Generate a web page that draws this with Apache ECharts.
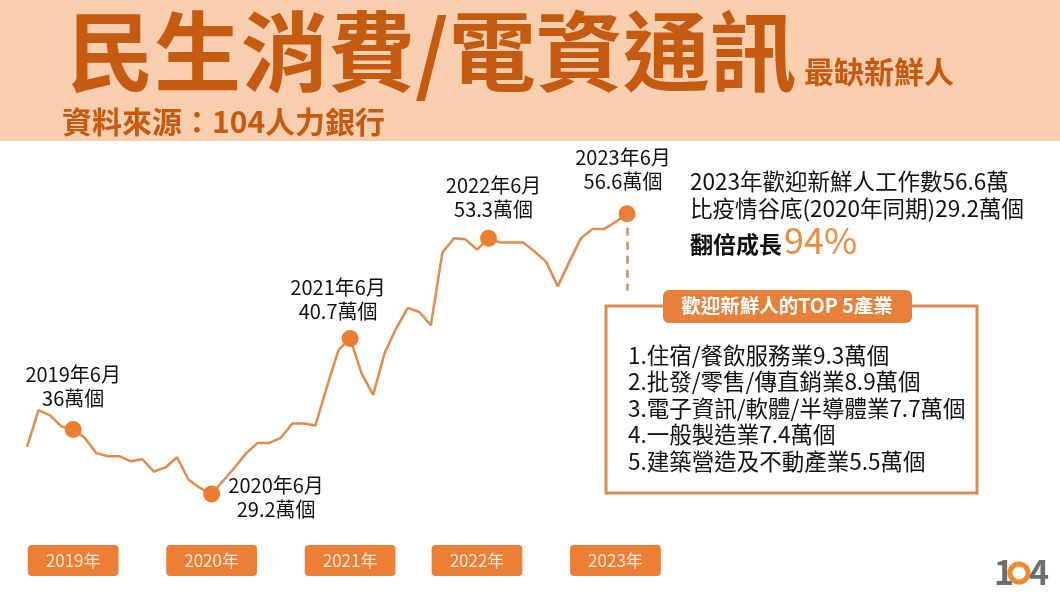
<!DOCTYPE html>
<html>
<head>
<meta charset="utf-8">
<script src="https://cdn.jsdelivr.net/npm/echarts@6/dist/echarts.min.js"></script>
<style>
  html, body { margin: 0; padding: 0; background: #fff; }
  #main { width: 1060px; height: 596px; }
</style>
</head>
<body>
<div id="main"></div>
<script>
// 月份（2019/02 ~ 2023/06）
const months = [
  '2019-02', '2019-03', '2019-04', '2019-05', '2019-06', '2019-07', '2019-08', '2019-09', '2019-10', '2019-11', '2019-12',
  '2020-01', '2020-02', '2020-03', '2020-04', '2020-05', '2020-06', '2020-07', '2020-08', '2020-09', '2020-10', '2020-11', '2020-12',
  '2021-01', '2021-02', '2021-03', '2021-04', '2021-05', '2021-06', '2021-07', '2021-08', '2021-09', '2021-10', '2021-11', '2021-12',
  '2022-01', '2022-02', '2022-03', '2022-04', '2022-05', '2022-06', '2022-07', '2022-08', '2022-09', '2022-10', '2022-11', '2022-12',
  '2023-01', '2023-02', '2023-03', '2023-04', '2023-05', '2023-06'
];
// 新鮮人工作數（萬個，依圖估讀）
const jobs = [
  33.8, 37.4, 36.9, 35.8, 35.5, 34.7, 33.2, 32.9, 32.9, 32.4, 32.6,
  31.4, 31.8, 32.8, 30.6, 29.8, 29.2, 30.5, 31.8, 33.2, 34.2, 34.2, 34.7,
  36.1, 36.1, 35.9, 39.7, 43.3, 44.4, 41.0, 38.9, 43.0, 45.4, 47.4, 47.0,
  45.7, 52.8, 54.2, 54.1, 53.1, 54.2, 53.8, 53.8, 53.8, 52.9, 51.9, 49.5,
  51.9, 54.2, 55.1, 55.1, 55.8, 56.6
];
// 標註的月份
const markMonths = ['2019-06', '2020-06', '2021-06', '2022-06', '2023-06'];
const markTexts = ['2019年6月\n36萬個', '2020年6月\n29.2萬個', '2021年6月\n40.7萬個', '2022年6月\n53.3萬個', '2023年6月\n56.6萬個'];
// 年份標籤顯示的月份
const yearTagMonths = ['2019-06', '2020-06', '2021-06', '2022-05', '2023-05'];
const dashEnd = 49.1;

const titleText = '民生消費/電資通訊';
const subTitle = '最缺新鮮人';
const sourceText = '資料來源：104人力銀行';
const noteLines = ['2023年歡迎新鮮人工作數56.6萬', '比疫情谷底(2020年同期)29.2萬個'];
const growthLabel = '翻倍成長';
const growthPct = '94%';
const boxTitle = '歡迎新鮮人的TOP 5產業';
const topIndustries = [
  '1.住宿/餐飲服務業9.3萬個',
  '2.批發/零售/傳直銷業8.9萬個',
  '3.電子資訊/軟體/半導體業7.7萬個',
  '4.一般製造業7.4萬個',
  '5.建築營造及不動產業5.5萬個'
];

const FONT = '"Noto Sans CJK TC", "Noto Sans", sans-serif';
const BROWN = '#c55a11';
const ORANGE = '#ed7d31';

// 各標註文字的位置
const labelStyles = [
  { position: 'top', distance: 11 },
  { position: [73, -12], align: 'center', verticalAlign: 'top' },
  { position: 'top', distance: 7, offset: [-12, 0] },
  { position: 'top', distance: 8, offset: [5, 0] },
  { position: 'top', distance: 12, offset: [-4, 0] }
];

const myChart = echarts.init(document.getElementById('main'));

const dotData = markMonths.map((m, k) => {
  const i = months.indexOf(m);
  return {
    value: [m, jobs[i]],
    label: Object.assign({ formatter: markTexts[k] }, labelStyles[k])
  };
});

const graphics = [
  { type: 'rect', shape: { x: 0, y: 0, width: 1060, height: 141 }, style: { fill: '#f9ceae' }, z: -1 },
  { type: 'text', style: { text: titleText, x: 67, y: 52, font: 'bold 87px ' + FONT, fill: BROWN, textVerticalAlign: 'middle' } },
  { type: 'text', style: { text: subTitle, x: 804, y: 72, font: 'bold 30px ' + FONT, fill: BROWN, textVerticalAlign: 'middle' } },
  { type: 'text', style: { text: sourceText, x: 62, y: 122, font: 'bold 30px ' + FONT, fill: BROWN, textVerticalAlign: 'middle' } },
  { type: 'text', style: { text: noteLines[0], x: 690, y: 181, font: '22.5px ' + FONT, fill: '#111', textVerticalAlign: 'middle' } },
  { type: 'text', style: { text: noteLines[1], x: 690, y: 208, font: '22.5px ' + FONT, fill: '#111', textVerticalAlign: 'middle' } },
  { type: 'text', style: { text: growthLabel, x: 690, y: 244, font: 'bold 23px ' + FONT, fill: '#111', textVerticalAlign: 'middle' } },
  { type: 'text', style: { text: growthPct, x: 784, y: 240, font: '36px ' + FONT, fill: '#ee8a3f', textVerticalAlign: 'middle' } },
  { type: 'rect', shape: { x: 606, y: 306, width: 371, height: 187 }, style: { fill: 'none', stroke: '#da8a52', lineWidth: 3 } },
  { type: 'rect', shape: { x: 663, y: 290, width: 249, height: 33, r: 6 }, style: { fill: '#e9803a' } },
  { type: 'text', style: { text: boxTitle, x: 787, y: 306, font: 'bold 19.5px ' + FONT, fill: '#fff', textAlign: 'center', textVerticalAlign: 'middle' } },
  { type: 'text', style: { text: '1', x: 994, y: 572, font: 'bold 34px ' + FONT, fill: '#6d6d6d', textVerticalAlign: 'middle' } },
  { type: 'circle', shape: { cx: 1019, cy: 573, r: 9 }, style: { fill: 'none', stroke: '#f08a2c', lineWidth: 5 } },
  { type: 'text', style: { text: '4', x: 1029, y: 572, font: 'bold 34px ' + FONT, fill: '#6d6d6d', textVerticalAlign: 'middle' } }
];
topIndustries.forEach((t, k) => {
  graphics.push({ type: 'text', style: { text: t, x: 628, y: 355 + k * 26.5, font: '22.5px ' + FONT, fill: '#111', textVerticalAlign: 'middle' } });
});

const option = {
  backgroundColor: '#fff',
  animation: false,
  textStyle: { fontFamily: FONT },
  grid: { left: 27, right: 433, top: 179, bottom: 59 },
  xAxis: {
    type: 'category',
    data: months,
    boundaryGap: false,
    axisLine: { show: false },
    axisTick: { show: false },
    splitLine: { show: false },
    axisLabel: {
      interval: (i) => yearTagMonths.includes(months[i]),
      formatter: (v) => v.slice(0, 4) + '年',
      margin: 8,
      color: '#fde9d9',
      fontSize: 17,
      lineHeight: 19,
      fontFamily: FONT,
      backgroundColor: '#ec7f35',
      borderRadius: 4,
      padding: [6, 18, 6, 18]
    }
  },
  yAxis: {
    type: 'value',
    min: 25,
    max: 60,
    show: false,
    splitLine: { show: false }
  },
  series: [
    {
      type: 'line',
      data: jobs,
      symbol: 'none',
      lineStyle: { color: '#e38b4a', width: 2.5 },
      markLine: {
        silent: true,
        symbol: 'none',
        label: { show: false },
        lineStyle: { color: '#c99068', width: 2.5, type: [8, 6] },
        data: [[{ coord: ['2023-06', jobs[jobs.length - 1]] }, { coord: ['2023-06', dashEnd] }]]
      }
    },
    {
      type: 'scatter',
      data: dotData,
      symbolSize: 17,
      itemStyle: { color: ORANGE, opacity: 1 },
      z: 3,
      label: {
        show: true,
        color: '#111',
        fontSize: 20,
        lineHeight: 24,
        fontFamily: FONT,
        align: 'center'
      }
    }
  ],
  graphic: graphics
};

option && myChart.setOption(option);
</script>
</body>
</html>
